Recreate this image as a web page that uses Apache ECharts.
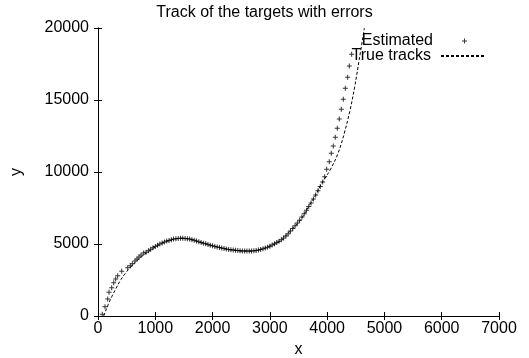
<!DOCTYPE html>
<html>
<head>
<meta charset="utf-8">
<script src="https://cdn.jsdelivr.net/npm/echarts@6/dist/echarts.min.js"></script>
<style>html,body{margin:0;padding:0;background:#fff}#c{width:529px;height:358px}</style>
</head>
<body>
<div id="c"></div>
<script>
var titleText = 'Track of the targets with errors';
var xTicks = [0, 1000, 2000, 3000, 4000, 5000, 6000, 7000];
var yTicks = [0, 5000, 10000, 15000, 20000];

var estX = [75,122,169,192,239,274,309,344,414,518,564,599,646,681,716,751,797,
  840,880,920,960,1000,1040,1080,1120,1160,1200,1240,1280,1320,1360,1400,1440,1480,1520,1560,1600,
  1640,1680,1720,1760,1800,1840,1880,1920,1960,2000,2040,2080,2120,2160,2200,2240,2280,2320,2360,2400,
  2440,2480,2520,2560,2600,2640,2680,2720,2760,2800,2840,2880,2920,2960,3000,3040,3080,3120,3160,3200,
  3240,3280,3320,3360,3400,3440,3480,3520,3560,3600,3640,3680,3720,3760,3800,3840,3880,
  3922,3957,3992,4037,4072,4107,4142,4177,4212,4247,4282,4317,4358,4387,4428];
var estY = [118,646,1181,1644,1968,2315,2569,2801,3104,3354,3493,3632,3819,3958,4097,4236,4375,
  4420,4530,4640,4740,4830,4920,5000,5070,5140,5200,5250,5300,5340,5370,5390,5400,5400,5390,5370,5340,
  5300,5260,5210,5160,5110,5060,5010,4960,4910,4870,4830,4790,4750,4720,4690,4650,4620,4600,4580,4560,
  4540,4530,4520,4510,4510,4510,4520,4530,4550,4580,4620,4670,4720,4780,4850,4930,5010,5100,5190,5300,
  5420,5560,5720,5900,6080,6260,6450,6650,6870,7100,7350,7600,7850,8120,8400,8700,9000,
  9300,9674,10187,10715,11299,11805,12410,13035,13680,14354,15049,15810,16576,17360,18170];

var trueX = [100,110,180,240,310,385,470,560,650,760,880,1000,1110,1230,1350,1450,1600,1780,1950,2130,
  2300,2480,2650,2830,3000,3180,3350,3530,3700,3820,3890,3960,4060,4190,4300,4400,4480,4560,4650];
var trueY = [0,118,810,1340,1880,2430,2930,3350,3730,4120,4470,4800,5040,5230,5360,5400,5340,5130,4930,4750,
  4610,4520,4510,4600,4850,5200,5880,6650,7750,8550,9100,9550,10200,11300,12700,14300,15900,17800,20000];

var estData = estX.map(function (x, i) { return [x, estY[i]]; });
var trueData = trueX.map(function (x, i) { return [x, trueY[i]]; });

var plus = 'path://M2,0h1v2h2v1h-2v2h-1v-2h-2v-1h2z';
var font = 'Liberation Sans, Arial, sans-serif';
var chart = echarts.init(document.getElementById('c'), null, {renderer: 'canvas'});
var axisBase = {
  min: 0, type: 'value',
  axisLine: {show: true, lineStyle: {color: '#000', width: 1}},
  axisTick: {show: true, inside: true, length: 4, lineStyle: {color: '#000'}},
  splitLine: {show: false}
};
chart.setOption({
  animation: false,
  backgroundColor: '#fff',
  textStyle: {fontFamily: font},
  title: {text: titleText, left: 'center', top: 5, padding: 0,
    textStyle: {fontSize: 16, fontWeight: 'normal', color: '#000', fontFamily: font}},
  grid: {left: 98, right: 30, top: 28, bottom: 42, containLabel: false, outerBoundsMode: 'none'},
  legend: [
    {data: ['Estimated'], right: 62, top: 33, padding: 0, align: 'right', orient: 'vertical',
      itemWidth: 43, itemHeight: 5, icon: plus,
      textStyle: {fontSize: 16, color: '#000', fontFamily: font, padding: [0, 5, 0, 0]}},
    {data: ['True tracks'], right: 44, top: 48, padding: 0, align: 'right', orient: 'vertical',
      itemWidth: 43, itemHeight: 14,
      itemStyle: {color: 'rgba(0,0,0,0)', borderColor: 'rgba(0,0,0,0)', borderWidth: 0},
      textStyle: {fontSize: 16, color: '#000', fontFamily: font, padding: [0, 5, 0, 0]}}
  ],
  xAxis: [
    Object.assign({}, axisBase, {max: 7000, interval: 1000, position: 'bottom',
      name: 'x', nameLocation: 'middle', nameGap: 24,
      nameTextStyle: {fontSize: 16, color: '#000', fontFamily: font},
      axisLabel: {color: '#000', fontSize: 16, margin: 5, fontFamily: font,
        formatter: function (v) { return xTicks.indexOf(v) >= 0 ? String(v) : ''; }}}),
    Object.assign({}, axisBase, {max: 7000, interval: 1000, position: 'top', axisLabel: {show: false}})
  ],
  yAxis: [
    Object.assign({}, axisBase, {max: 20000, interval: 5000, position: 'left',
      name: 'y', nameLocation: 'middle', nameGap: 73,
      nameTextStyle: {fontSize: 16, color: '#000', fontFamily: font},
      axisLabel: {color: '#000', fontSize: 16, margin: 9, fontFamily: font,
        formatter: function (v) { return yTicks.indexOf(v) >= 0 ? String(v) : ''; }}}),
    Object.assign({}, axisBase, {max: 20000, interval: 5000, position: 'right', axisLabel: {show: false}})
  ],
  series: [
    {name: 'Estimated', type: 'scatter', data: estData, symbol: plus, symbolSize: 5,
      itemStyle: {color: '#000'}, xAxisIndex: 0, yAxisIndex: 0},
    {name: 'True tracks', type: 'line', data: trueData, smooth: 0.4, symbol: 'none', showSymbol: false,
      lineStyle: {color: '#000', width: 1, type: [3, 2]}, itemStyle: {color: '#000'},
      xAxisIndex: 0, yAxisIndex: 0}
  ]
});
</script>
</body>
</html>
